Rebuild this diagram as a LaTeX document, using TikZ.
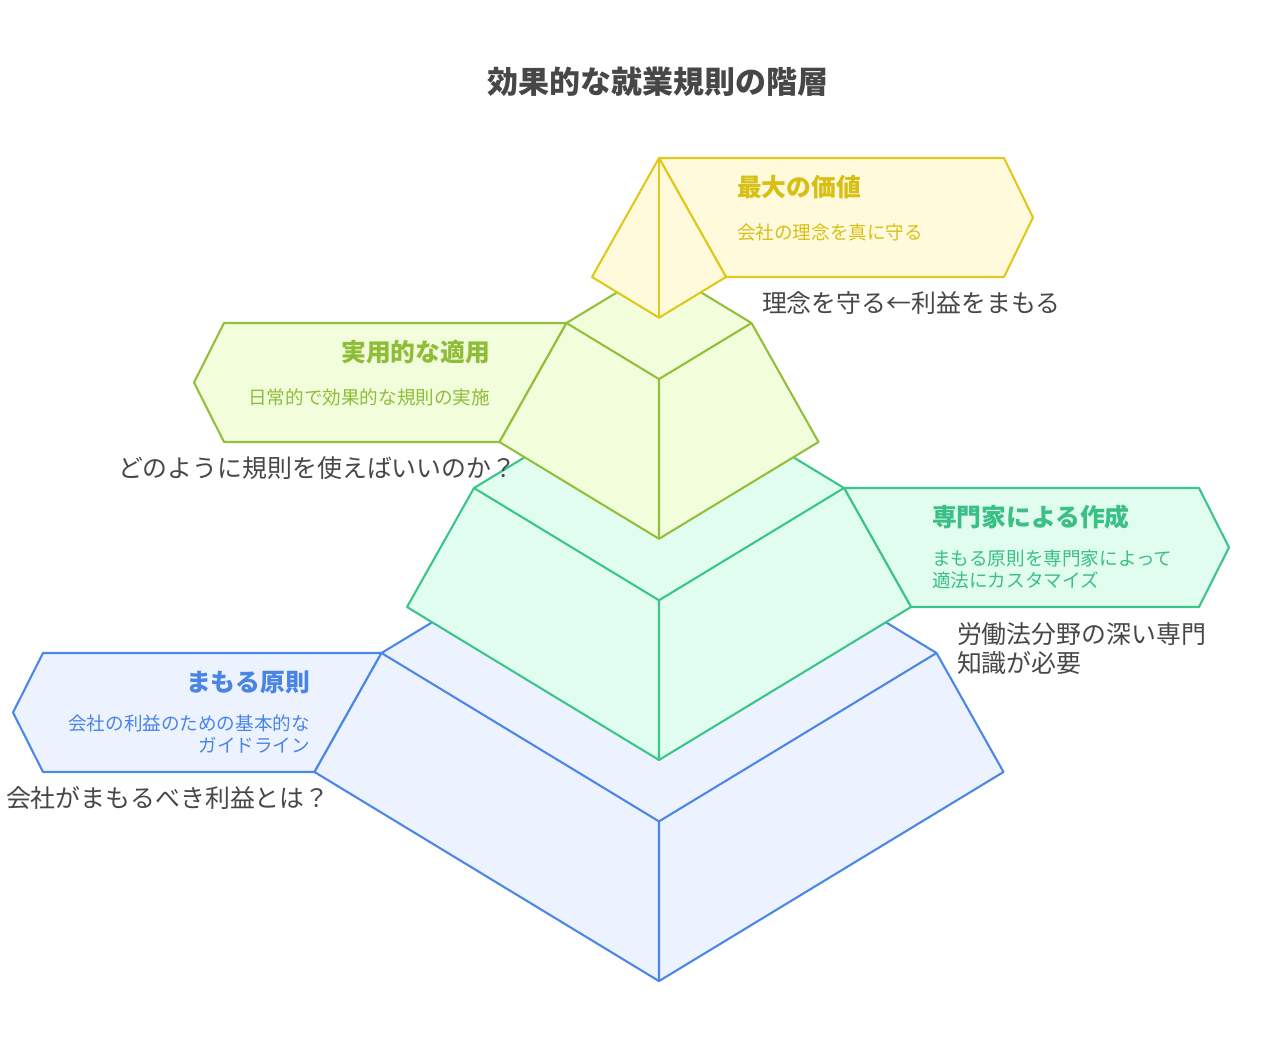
\documentclass[tikz,border=0pt]{standalone}
\usepackage{fontspec}
\setmainfont{Noto Sans CJK JP}
\definecolor{ystroke}{HTML}{E0C81C}
\definecolor{yfill}{HTML}{FFFADB}
\definecolor{ytext}{HTML}{D8BF16}
\definecolor{gystroke}{HTML}{93BF3B}
\definecolor{gyfill}{HTML}{F2FDDC}
\definecolor{gytext}{HTML}{8FBD38}
\definecolor{gstroke}{HTML}{3CC58A}
\definecolor{gfill}{HTML}{E1FDEF}
\definecolor{gtext}{HTML}{3ABF84}
\definecolor{bstroke}{HTML}{4C87E8}
\definecolor{bfill}{HTML}{ECF3FE}
\definecolor{btext}{HTML}{4A85E6}
\definecolor{darktxt}{HTML}{474747}
\begin{document}
\begin{tikzpicture}[x=1pt,y=-1pt,line width=2.1pt,line join=round,
  ylayer/.style={draw=ystroke,fill=yfill},
  gylayer/.style={draw=gystroke,fill=gyfill},
  glayer/.style={draw=gstroke,fill=gfill},
  blayer/.style={draw=bstroke,fill=bfill},
  txt/.style={inner sep=0pt,outer sep=0pt},
  ttl/.style={txt,font=\fontsize{24.8}{29}\selectfont\bfseries},
  sub/.style={txt,font=\fontsize{18.6}{22}\selectfont},
  outtxt/.style={txt,font=\fontsize{24.9}{29.5}\selectfont,text=darktxt},
  maintitle/.style={txt,font=\fontsize{31}{36}\selectfont\bfseries,text=darktxt}]
\useasboundingbox (0,0) rectangle (1278,1038);
% ---------- coordinates ----------
% blue layer
\coordinate (bTL) at (381.5,653);
\coordinate (bTR) at (936.5,653);
\coordinate (bTF) at (659,821.4);
\coordinate (bTB) at (659,484.6);
\coordinate (bBL) at (314.5,772);
\coordinate (bBR) at (1003.5,772);
\coordinate (bBF) at (659,981.1);
% green layer
\coordinate (gTL) at (474,488);
\coordinate (gTR) at (844,488);
\coordinate (gTF) at (659,600.3);
\coordinate (gTB) at (659,375.7);
\coordinate (gBL) at (407,607);
\coordinate (gBR) at (911,607);
\coordinate (gBF) at (659,760);
% yellow-green layer
\coordinate (yTL) at (566.5,323);
\coordinate (yTR) at (751.5,323);
\coordinate (yTF) at (659,379.1);
\coordinate (yTB) at (659,266.9);
\coordinate (yBL) at (499.5,442);
\coordinate (yBR) at (818.5,442);
\coordinate (yBF) at (659,538.8);
% yellow tip
\coordinate (tA) at (659,158);
\coordinate (tBL) at (592,277);
\coordinate (tBR) at (726,277);
\coordinate (tBF) at (659,317.7);
% label corners
\coordinate (bl1) at (43,653);
\coordinate (bl2) at (13,712.5);
\coordinate (bl3) at (43,772);
\coordinate (gl1) at (1199,488);
\coordinate (gl2) at (1229,547.5);
\coordinate (gl3) at (1199,607);
\coordinate (yl1) at (224,323);
\coordinate (yl2) at (194,382.5);
\coordinate (yl3) at (224,442);
\coordinate (tl1) at (1004,158);
\coordinate (tl2) at (1033,217.5);
\coordinate (tl3) at (1004,277);
% ---------- blue ----------
\draw[blayer] (bTL) -- (bl1) -- (bl2) -- (bl3) -- (bBL) -- cycle;
\draw[blayer] (bTL) -- (bBL) -- (bBF) -- (bBR) -- (bTR) -- (bTB) -- cycle;
\draw[draw=bstroke] (bTL) -- (bTF) -- (bTR) (bTF) -- (bBF);
% ---------- green ----------
\draw[glayer] (gTR) -- (gl1) -- (gl2) -- (gl3) -- (gBR) -- cycle;
\draw[glayer] (gTL) -- (gBL) -- (gBF) -- (gBR) -- (gTR) -- (gTB) -- cycle;
\draw[draw=gstroke] (gTL) -- (gTF) -- (gTR) (gTF) -- (gBF);
% ---------- yellow-green ----------
\draw[gylayer] (yTL) -- (yl1) -- (yl2) -- (yl3) -- (yBL) -- cycle;
\draw[gylayer] (yTL) -- (yBL) -- (yBF) -- (yBR) -- (yTR) -- (yTB) -- cycle;
\draw[draw=gystroke] (yTL) -- (yTF) -- (yTR) (yTF) -- (yBF);
% ---------- yellow ----------
\draw[ylayer] (tA) -- (tl1) -- (tl2) -- (tl3) -- (tBR) -- cycle;
\draw[ylayer] (tA) -- (tBL) -- (tBF) -- (tBR) -- cycle;
\draw[draw=ystroke] (tA) -- (tBF);
% ---------- texts ----------
\node[maintitle] (title) at (658,82) {効果的な就業規則の階層};
\node[ttl,text=ytext,anchor=west] (t1) at (737,187) {最大の価値};
\node[sub,text=ytext,anchor=west] (s1) at (737,232) {会社の理念を真に守る};
\node[outtxt,anchor=west] (o1) at (762,303) {理念を守る←利益をまもる};
\node[ttl,text=gytext,anchor=east] (t2) at (490,352) {実用的な適用};
\node[sub,text=gytext,anchor=east] (s2) at (490,397) {日常的で効果的な規則の実施};
\node[outtxt,anchor=west] (o2) at (118,468) {どのように規則を使えばいいのか？};
\node[ttl,text=gtext,anchor=west] (t3) at (932,517) {専門家による作成};
\node[sub,text=gtext,anchor=west,align=left] (s3) at (932,569) {まもる原則を専門家によって\\適法にカスタマイズ};
\node[outtxt,anchor=west,align=left] (o3) at (957,648.5) {労働法分野の深い専門\\知識が必要};
\node[ttl,text=btext,anchor=east] (t4) at (310,682) {まもる原則};
\node[sub,text=btext,anchor=east,align=right] (s4) at (310,734.5) {会社の利益のための基本的な\\ガイドライン};
\node[outtxt,anchor=west] (o4) at (6,798) {会社がまもるべき利益とは？};
\end{tikzpicture}
\end{document}
